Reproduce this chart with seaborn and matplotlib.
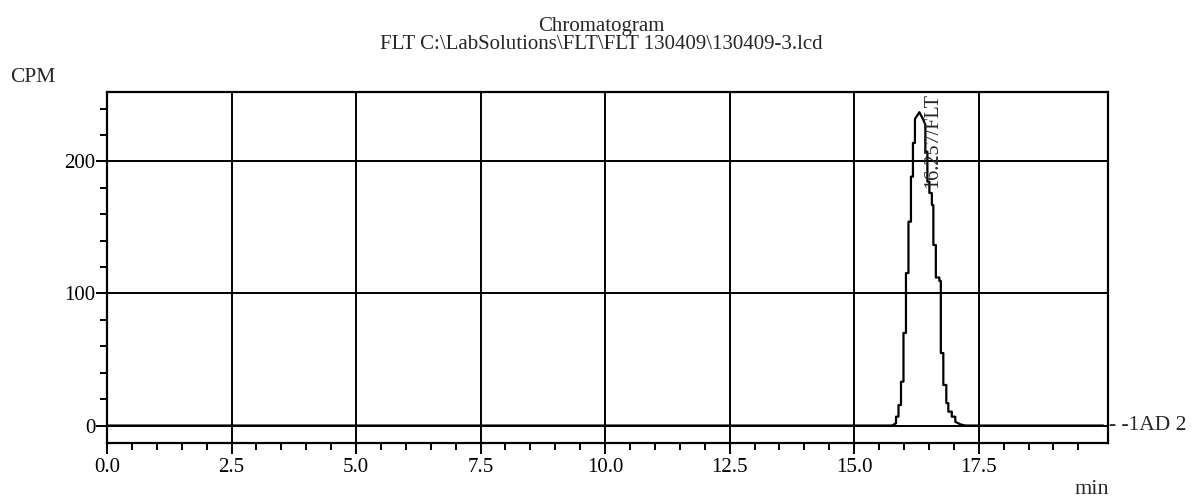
import matplotlib
matplotlib.use("Agg")
import matplotlib.pyplot as plt
import seaborn as sns
import numpy as np
import pandas as pd
from matplotlib.ticker import FixedLocator

# ---- data ----
time_min = [0.0, 15.76, 15.84, 15.84, 15.89, 15.89, 15.94, 15.94, 15.99, 15.99,
            16.04, 16.04, 16.09, 16.09, 16.14, 16.14, 16.18, 16.18, 16.22, 16.22,
            16.31, 16.39, 16.43, 16.43, 16.47, 16.47, 16.51, 16.51, 16.56, 16.56,
            16.59, 16.59, 16.64, 16.64, 16.71, 16.71, 16.74, 16.74, 16.79, 16.79,
            16.85, 16.85, 16.89, 16.89, 16.96, 16.96, 17.03, 17.03, 17.13, 17.23, 20.0]
cpm = [0.0, 0.0, 1.7, 6.7, 6.7, 15.5, 15.5, 33.2, 33.2, 70.1,
       70.1, 115.5, 115.5, 154.4, 154.4, 188.5, 188.5, 214.0, 214.0, 232.2,
       237.3, 231.4, 227.7, 207.4, 207.4, 184.7, 184.7, 176.1, 176.1, 167.0,
       167.0, 136.7, 136.7, 112.1, 112.1, 109.5, 109.5, 54.9, 54.9, 30.7,
       30.7, 17.0, 17.0, 10.5, 10.5, 6.7, 6.7, 2.9, 0.9, 0.0, 0.0]

x_major = [0.0, 2.5, 5.0, 7.5, 10.0, 12.5, 15.0, 17.5]
x_major_labels = ["0.0", "2.5", "5.0", "7.5", "10.0", "12.5", "15.0", "17.5"]
y_major = [0, 100, 200]
y_major_labels = ["0", "100", "200"]

title_line1 = "Chromatogram"
title_line2 = "FLT C:\\LabSolutions\\FLT\\FLT 130409\\130409-3.lcd"
peak_label = "16.257/FLT"
peak_time = 16.57
channel_label = "- -1AD 2"

df = pd.DataFrame({"time": time_min, "cpm": cpm})

sns.set_theme(style="white")
plt.rcParams["font.family"] = ["Liberation Serif", "DejaVu Serif"]

fig = plt.figure(figsize=(11.95, 5.01), dpi=100)
ax = fig.add_axes([107 / 1195, 1 - 442.7 / 501, (1107.7 - 107) / 1195, (442.7 - 92) / 501])

sns.lineplot(data=df, x="time", y="cpm", ax=ax, estimator=None, sort=False,
             color="black", linewidth=1.6, zorder=3)

ax.set_xlim(0, 20.09)
ax.set_ylim(-13, 252.6)

ax.xaxis.set_major_locator(FixedLocator(x_major))
ax.set_xticklabels(x_major_labels)
x_minor = [v / 2 for v in range(0, 40) if (v / 2) not in x_major]
ax.xaxis.set_minor_locator(FixedLocator(x_minor))

ax.yaxis.set_major_locator(FixedLocator(y_major))
ax.set_yticklabels(y_major_labels)
y_minor = [v for v in range(20, 260, 20) if v not in y_major]
ax.yaxis.set_minor_locator(FixedLocator(y_minor))

ax.tick_params(axis="both", which="major", direction="out", length=8, width=1.4,
               color="black", labelsize=15, labelcolor="black", pad=2)
ax.tick_params(axis="both", which="minor", direction="out", length=5, width=1.4,
               color="black")
ax.tick_params(axis="x", which="major", pad=3)
ax.tick_params(axis="y", which="major", pad=0.5)
ax.tick_params(bottom=True, left=True, which="both")

for sp in ax.spines.values():
    sp.set_color("black")
    sp.set_linewidth(1.6)
    sp.set_visible(True)

ax.grid(True, which="major", color="black", linewidth=1.4)
ax.set_axisbelow(True)
ax.set_xlabel("")
ax.set_ylabel("")

fig.text(0.503, 0.948, title_line1, ha="center", va="center", fontsize=15)
fig.text(0.503, 0.911, title_line2, ha="center", va="center", fontsize=15)
fig.text(0.0276, 0.845, "CPM", ha="center", va="center", fontsize=15.5)
fig.text(0.914, 0.022, "min", ha="center", va="center", fontsize=16)

ax.text(1.001, 0, channel_label, transform=ax.get_yaxis_transform(),
        ha="left", va="center", fontsize=15.5, clip_on=False)
ax.text(peak_time, 252, peak_label, rotation=90, ha="center", va="top", fontsize=14.5)

fig.savefig("out.png", dpi=100)
